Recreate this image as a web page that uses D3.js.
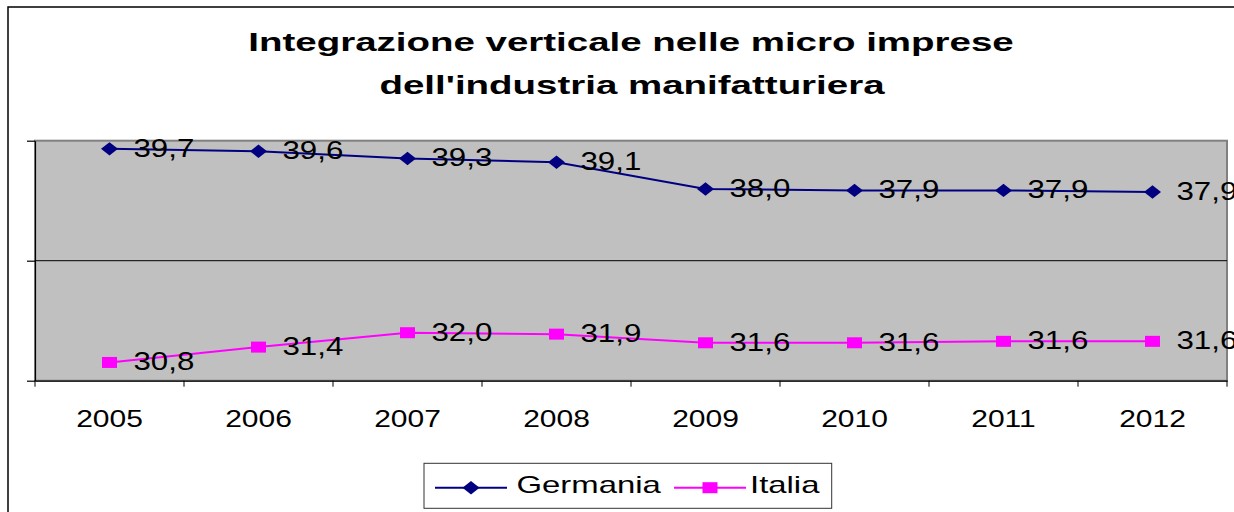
<!DOCTYPE html>
<html>
<head>
<meta charset="utf-8">
<script src="https://cdn.jsdelivr.net/npm/d3@7"></script>
<style>
  html, body { margin: 0; padding: 0; background: #fff; overflow: hidden; }
  svg { display: block; font-family: "Liberation Sans", Arial, sans-serif; }
</style>
</head>
<body>
<svg id="chart" width="1234" height="512"></svg>
<script>
// ---- data ----
const years = ["2005", "2006", "2007", "2008", "2009", "2010", "2011", "2012"];
const germania = [39.66, 39.56, 39.26, 39.1, 37.99, 37.93, 37.93, 37.86];
const italia = [30.76, 31.4, 32.0, 31.94, 31.58, 31.58, 31.64, 31.64];
const seriesNames = ["Germania", "Italia"];
const yTicks = [30, 35, 40];
const titleLines = ["Integrazione verticale nelle micro imprese", "dell'industria manifatturiera"];

// ---- layout ----
const svg = d3.select("#chart");
const W = 1234, H = 512;
const plot = { left: 35, right: 1227, top: 140.7, bottom: 380.7 };

const x = d3.scaleBand().domain(years).range([plot.left, plot.right]);
const y = d3.scaleLinear().domain([30, 40]).range([plot.bottom, plot.top]);

const fmt = v => d3.format(".1f")(v).replace(".", ",");

// outer frame
svg.append("rect").attr("x", 8).attr("y", 7).attr("width", W + 20).attr("height", H + 20)
  .attr("fill", "#fff").attr("stroke", "#000").attr("stroke-width", 1.5);

// stretched text helper
function stext(g, tx, ty, str, size, sx, opts = {}) {
  const t = g.append("text")
    .attr("transform", `translate(${tx},${ty}) scale(${sx},1)`)
    .attr("font-size", size)
    .attr("fill", "#000")
    .attr("text-anchor", opts.anchor || "start")
    .attr("font-weight", opts.bold ? "bold" : "normal")
    .text(str);
  return t;
}

// title
const titleG = svg.append("g");
stext(titleG, 631, 51, titleLines[0], 26, 1.48, { anchor: "middle", bold: true });
stext(titleG, 632, 94, titleLines[1], 26, 1.48, { anchor: "middle", bold: true });

// plot area
svg.append("rect")
  .attr("x", plot.left).attr("y", plot.top)
  .attr("width", plot.right - plot.left).attr("height", plot.bottom - plot.top)
  .attr("fill", "#C0C0C0").attr("stroke", "#808080").attr("stroke-width", 2);

// gridlines
svg.append("g").selectAll("line").data([35]).join("line")
  .attr("x1", plot.left).attr("x2", plot.right)
  .attr("y1", d => y(d)).attr("y2", d => y(d))
  .attr("stroke", "#000").attr("stroke-width", 1);

// y axis
const yAxis = svg.append("g").attr("transform", `translate(${plot.left},0)`)
  .call(d3.axisLeft(y).tickValues(yTicks).tickSize(8).tickSizeOuter(0).tickFormat(""));
yAxis.selectAll("path, line").attr("stroke", "#000").attr("stroke-width", 1.2);

// x axis
const xAxis = svg.append("g").attr("transform", `translate(0,${plot.bottom})`)
  .call(d3.axisBottom(x).tickSize(0).tickSizeOuter(0).tickFormat(""));
xAxis.select("path").attr("stroke", "#000").attr("stroke-width", 1.2);
xAxis.selectAll(".tick").remove();
const bounds = years.map(d => x(d)).concat([x.range()[1]]);
svg.append("g").selectAll("line").data(bounds).join("line")
  .attr("x1", d => d).attr("x2", d => d)
  .attr("y1", plot.bottom).attr("y2", plot.bottom + 6)
  .attr("stroke", "#000").attr("stroke-width", 1);
const yearG = svg.append("g");
years.forEach(d => stext(yearG, x(d) + x.bandwidth() / 2, 426.5, d, 24, 1.25, { anchor: "middle" }));

// series
const cx = d => x(d) + x.bandwidth() / 2;
const series = [
  { name: seriesNames[0], values: germania, color: "#000080", shape: "diamond" },
  { name: seriesNames[1], values: italia, color: "#FF00FF", shape: "square" }
];
const diamondPath = "M0,-6.7L8.5,0L0,6.7L-8.5,0Z";

function drawMarker(g, px, py, s) {
  if (s.shape === "diamond") {
    g.append("path").attr("d", diamondPath).attr("transform", `translate(${px},${py})`).attr("fill", s.color);
  } else {
    g.append("rect").attr("x", px - 7.5).attr("y", py - 5.5).attr("width", 15).attr("height", 11).attr("fill", s.color);
  }
}

const line = d3.line().x((d, i) => cx(years[i])).y(d => y(d));
series.forEach(s => {
  svg.append("path").datum(s.values).attr("d", line)
    .attr("fill", "none").attr("stroke", s.color).attr("stroke-width", 2);
  const mg = svg.append("g");
  s.values.forEach((v, i) => drawMarker(mg, cx(years[i]), y(v), s));
});
series.forEach(s => {
  const lg = svg.append("g");
  s.values.forEach((v, i) => stext(lg, cx(years[i]) + 24, y(v) + 8, fmt(v), 25, 1.25));
});

// legend
const leg = svg.append("g");
leg.append("rect").attr("x", 424).attr("y", 463.3).attr("width", 407.7).attr("height", 45)
  .attr("fill", "#fff").attr("stroke", "#333").attr("stroke-width", 1);
const legItems = [
  { s: series[0], x0: 435, x1: 507, tx: 516.5 },
  { s: series[1], x0: 674, x1: 746, tx: 750 }
];
legItems.forEach(it => {
  leg.append("line").attr("x1", it.x0).attr("x2", it.x1).attr("y1", 487.7).attr("y2", 487.7)
    .attr("stroke", it.s.color).attr("stroke-width", 2);
  drawMarker(leg, (it.x0 + it.x1) / 2, 487.7, it.s);
  stext(leg, it.tx, 492.5, it.s.name, 23, 1.43);
});
</script>
</body>
</html>
